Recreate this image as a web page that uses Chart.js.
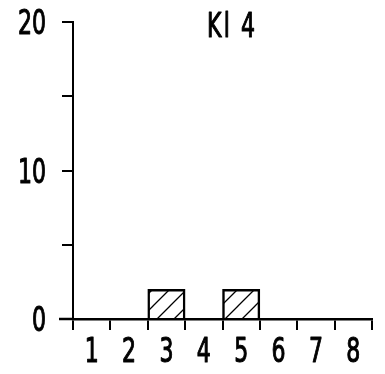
<!DOCTYPE html>
<html>
<head>
<meta charset="utf-8">
<script src="https://cdn.jsdelivr.net/npm/chart.js@4/dist/chart.umd.min.js"></script>
<style>
  html, body { margin: 0; padding: 0; background: #fff; }
  #wrap { width: 385px; height: 374px; }
</style>
</head>
<body>
<div id="wrap"><canvas id="c" width="385" height="374"></canvas></div>
<script>
// Class frequencies for sample "Kl 4"
const categories = ['1', '2', '3', '4', '5', '6', '7', '8'];
const counts = [0, 0, 2, 0, 2, 0, 0, 0];
const yLabelled = [0, 10, 20];
const titleText = 'Kl 4';

const FONT = '"DejaVu Sans Condensed", "DejaVu Sans", sans-serif';
const FONT_SIZE = 34;
const SQUEEZE = 0.72;   // horizontal squeeze for a narrow, drafting-style lettering

// Diagonal hatching used to fill the bars
function hatchPattern() {
  const s = 17;
  const pc = document.createElement('canvas');
  pc.width = s; pc.height = s;
  const g = pc.getContext('2d');
  g.fillStyle = '#fff';
  g.fillRect(0, 0, s, s);
  g.strokeStyle = '#000';
  g.lineWidth = 1.3;
  g.beginPath();
  g.moveTo(-1, s + 1); g.lineTo(s + 1, -1);
  g.moveTo(-1, 1); g.lineTo(1, -1);
  g.moveTo(s - 1, s + 1); g.lineTo(s + 1, s - 1);
  g.stroke();
  return document.getElementById('c').getContext('2d').createPattern(pc, 'repeat');
}

// Narrow, pen-weight text: centre line at cy, anchored at x
function narrowText(ctx, text, x, cy, align, spacing) {
  ctx.save();
  ctx.translate(x, cy + 0.365 * FONT_SIZE);
  ctx.scale(SQUEEZE, 1);
  ctx.textAlign = align;
  ctx.textBaseline = 'alphabetic';
  ctx.letterSpacing = (spacing || 0) + 'px';
  ctx.lineWidth = 1.1;
  ctx.lineJoin = 'round';
  ctx.fillText(text, 0, 0);
  ctx.strokeText(text, 0, 0);
  ctx.restore();
}

// Tick labels, title and the short extension of the base line
const lettering = {
  id: 'lettering',
  afterDraw(chart) {
    const ctx = chart.ctx;
    const a = chart.chartArea;
    const xs = chart.scales.x;
    const ys = chart.scales.y;
    const y0 = ys.getPixelForValue(0);
    ctx.save();
    ctx.strokeStyle = '#000';
    ctx.lineWidth = 2.5;
    ctx.beginPath();
    ctx.moveTo(a.left - 14, y0);
    ctx.lineTo(a.left, y0);
    ctx.stroke();

    ctx.fillStyle = '#000';
    ctx.font = FONT_SIZE + 'px ' + FONT;
    // y labels
    ys.ticks.forEach((t) => {
      if (yLabelled.includes(t.value)) {
        narrowText(ctx, String(t.value), a.left - 27, ys.getPixelForValue(t.value), 'right');
      }
    });
    // x labels
    categories.forEach((c, i) => {
      narrowText(ctx, c, xs.getPixelForValue(i), y0 + 31, 'center');
    });
    // title
    narrowText(ctx, titleText, xs.getPixelForValue(4) - 9, ys.getPixelForValue(20) + 3, 'center', 3);
    ctx.restore();
  }
};

new Chart(document.getElementById('c'), {
  type: 'bar',
  data: {
    labels: categories,
    datasets: [{
      data: counts,
      backgroundColor: hatchPattern(),
      borderColor: '#000',
      borderWidth: 2.5,
      barPercentage: 1,
      categoryPercentage: 1
    }]
  },
  options: {
    responsive: false,
    animation: false,
    layout: { padding: { top: 22, right: 13, bottom: 0, left: 0 } },
    plugins: { legend: { display: false }, tooltip: { enabled: false }, title: { display: false } },
    scales: {
      x: {
        offset: true,
        afterFit(s) { s.height = 55; },
        grid: { offset: true, drawOnChartArea: false, drawTicks: true, tickLength: 11, color: '#000', lineWidth: 2 },
        border: { display: true, color: '#000', width: 2.5 },
        ticks: { display: false, autoSkip: false }
      },
      y: {
        min: 0,
        max: 20,
        afterFit(s) { s.width = 73; },
        grid: { drawOnChartArea: false, drawTicks: true, tickLength: 11, color: '#000', lineWidth: 2 },
        border: { display: true, color: '#000', width: 2 },
        ticks: { display: false, stepSize: 5 }
      }
    }
  },
  plugins: [lettering]
});
</script>
</body>
</html>
